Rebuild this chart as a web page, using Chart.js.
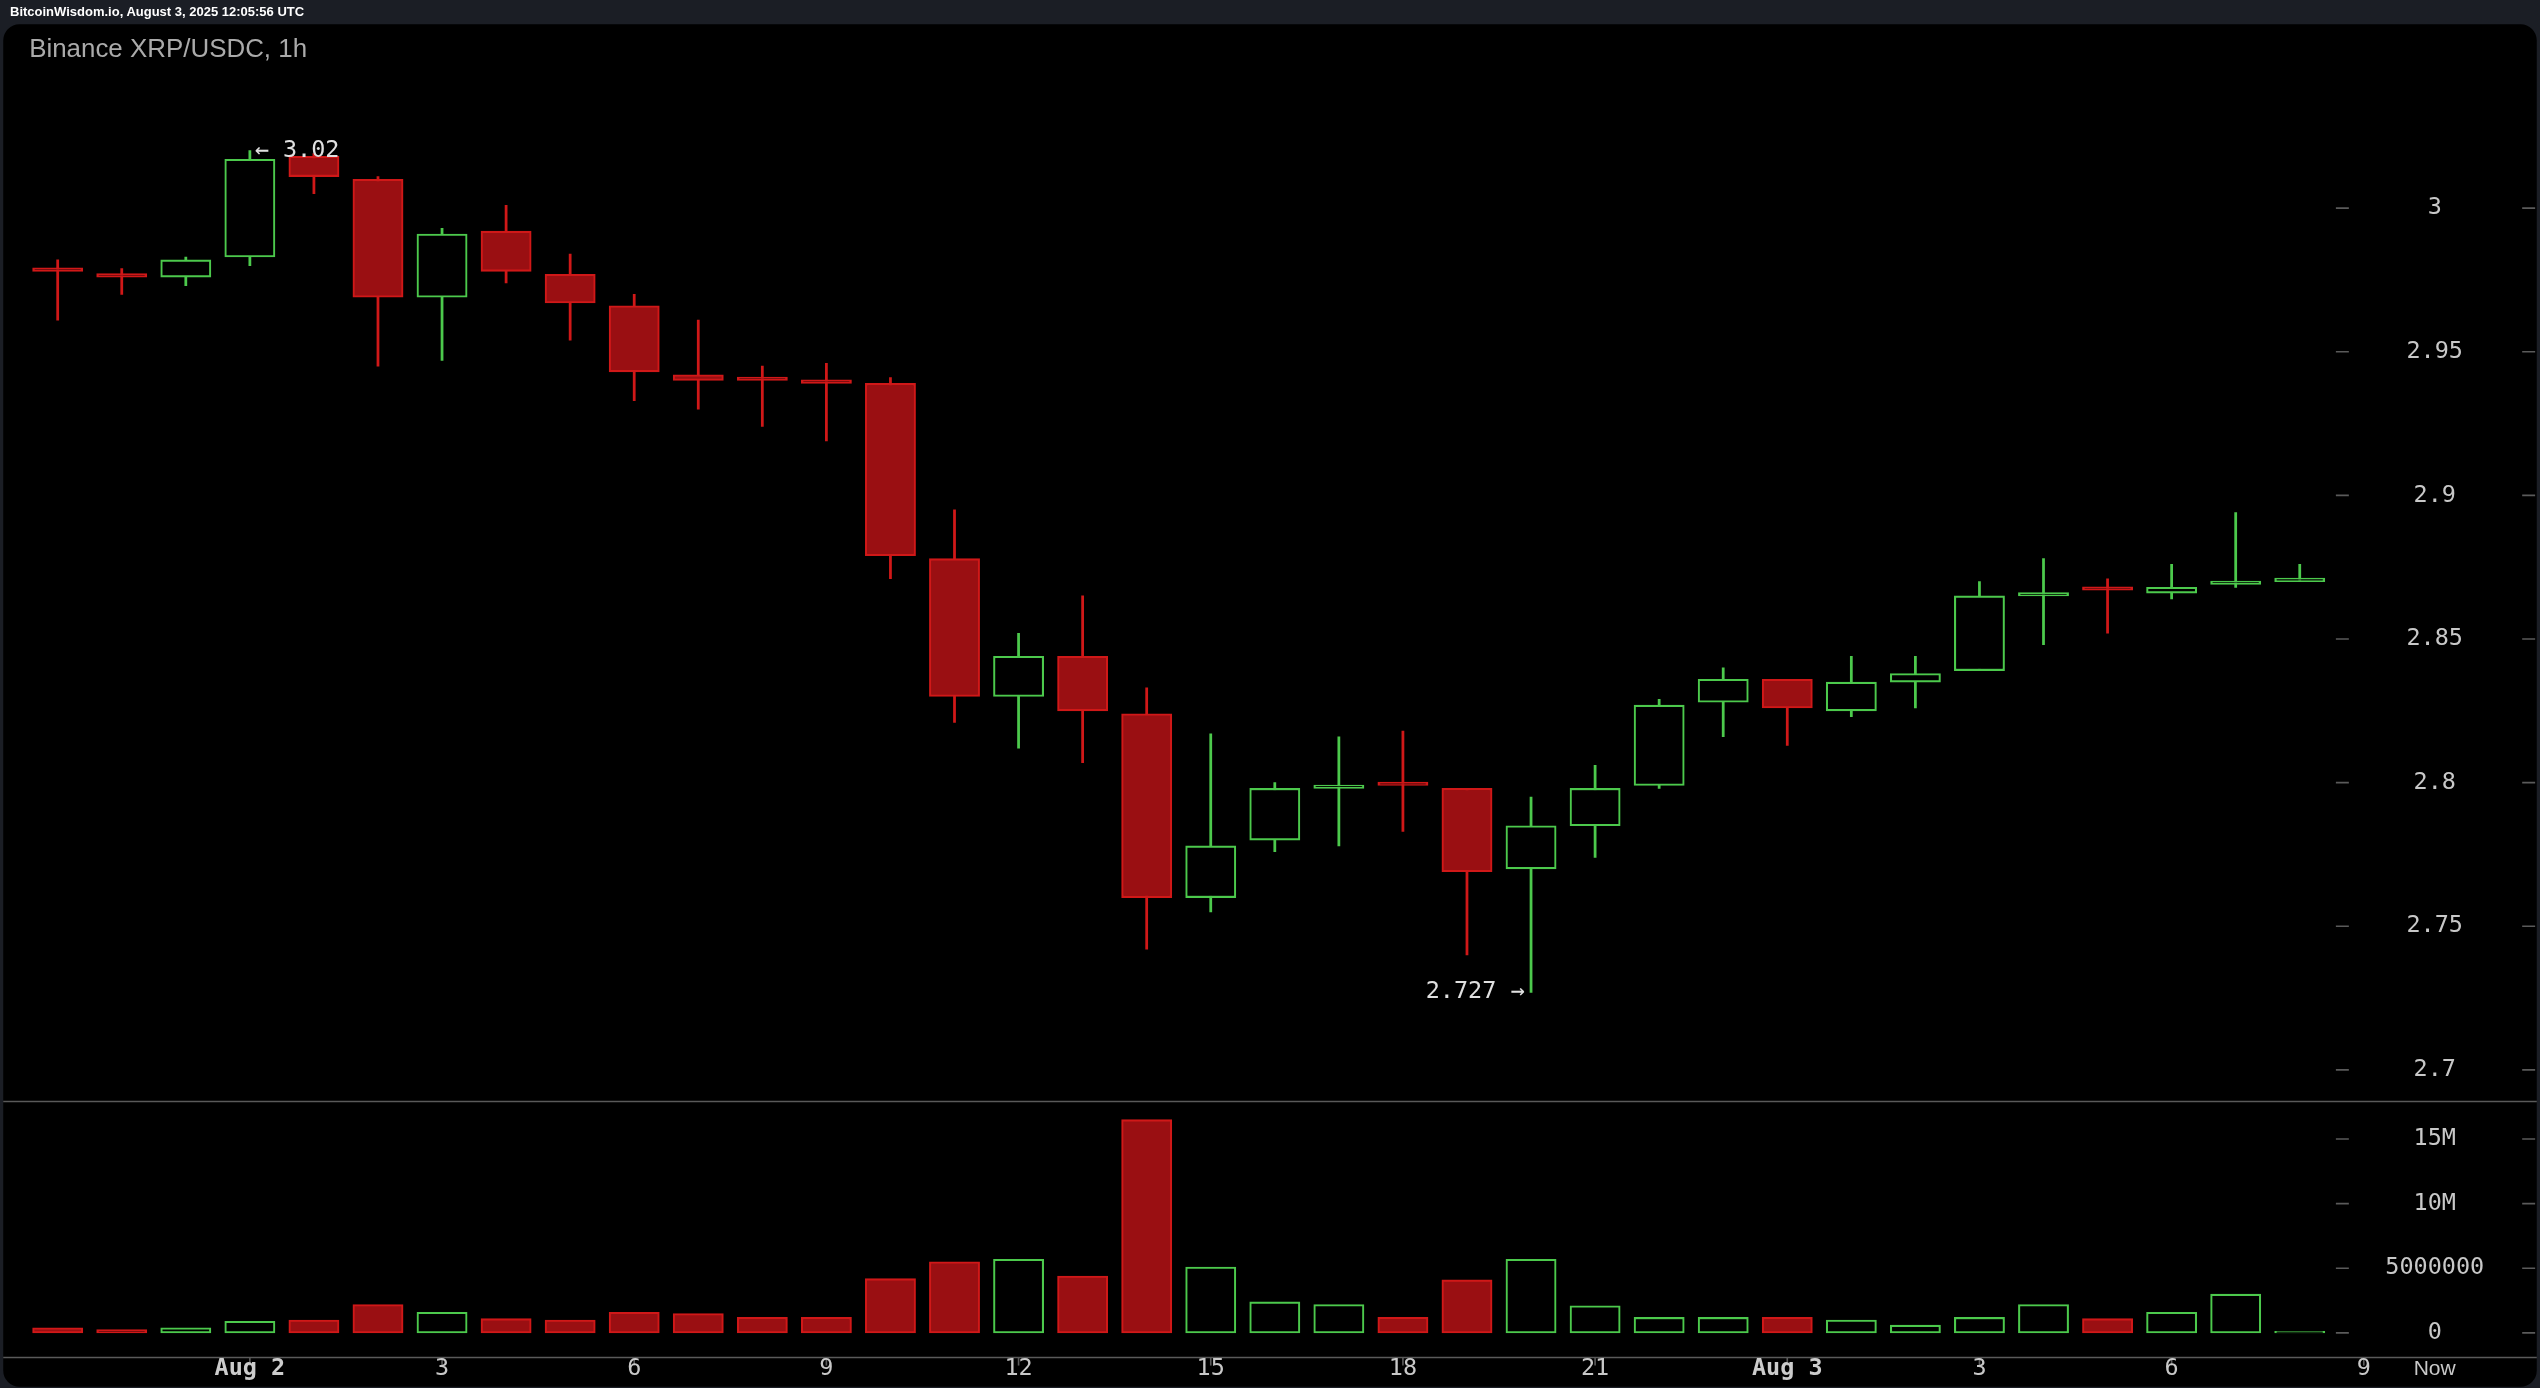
<!DOCTYPE html>
<html>
<head>
<meta charset="utf-8">
<script src="https://cdn.jsdelivr.net/npm/chart.js@4/dist/chart.umd.min.js"></script>
<style>
  html, body { margin: 0; padding: 0; background: #1b1e25; overflow: hidden; }
  #wrap { position: absolute; left: 0; top: 0; width: 2540px; height: 1388px; }
  #stamp { position: absolute; left: 10px; top: 4px; font: 600 13px "Liberation Sans", Arial, sans-serif; color: #fff; }
</style>
</head>
<body>
<div id="wrap"><canvas id="myChart" width="2540" height="1388"></canvas></div>
<div id="stamp">BitcoinWisdom.io, August 3, 2025 12:05:56 UTC</div>
<script>
// hourly candles, Aug 1 21:00 -> Aug 3 08:00
const opens  = [2.978,2.976,2.976,2.983,3.018,3.010,2.969,2.992,2.977,2.966,2.942,2.940,2.939,2.939,2.878,2.830,2.844,2.824,2.760,2.780,2.798,2.799,2.798,2.770,2.785,2.799,2.828,2.836,2.825,2.835,2.839,2.865,2.867,2.866,2.869,2.870];
const highs  = [2.982,2.979,2.983,3.020,3.019,3.011,2.993,3.001,2.984,2.970,2.961,2.945,2.946,2.941,2.895,2.852,2.865,2.833,2.817,2.800,2.816,2.818,2.798,2.795,2.806,2.829,2.840,2.836,2.844,2.844,2.870,2.878,2.871,2.876,2.894,2.876];
const lows   = [2.961,2.970,2.973,2.980,3.005,2.945,2.947,2.974,2.954,2.933,2.930,2.924,2.919,2.871,2.821,2.812,2.807,2.742,2.755,2.776,2.778,2.783,2.740,2.727,2.774,2.798,2.816,2.813,2.823,2.826,2.839,2.848,2.852,2.864,2.868,2.870];
const closes = [2.977,2.976,2.982,3.017,3.011,2.969,2.991,2.978,2.967,2.943,2.940,2.939,2.939,2.879,2.830,2.844,2.825,2.760,2.778,2.798,2.799,2.799,2.769,2.785,2.798,2.827,2.836,2.826,2.835,2.838,2.865,2.866,2.867,2.868,2.869,2.871];
const isUp   = [0,0,1,1,0,0,1,0,0,0,0,0,0,0,0,1,0,0,1,1,1,0,0,1,1,1,1,0,1,1,1,1,0,1,1,1];
const volumes = [0.4,0.25,0.4,0.9,1.0,2.2,1.6,1.1,1.0,1.6,1.5,1.2,1.2,4.2,5.5,5.7,4.4,16.5,5.1,2.4,2.2,1.2,4.1,5.7,2.1,1.2,1.2,1.2,1.0,0.6,1.2,2.2,1.1,1.6,3.0,0.1].map(v => v * 1e6);
const timeTicks = [[3,'Aug 2'],[6,'3'],[9,'6'],[12,'9'],[15,'12'],[18,'15'],[21,'18'],[24,'21'],[27,'Aug 3'],[30,'3'],[33,'6'],[36,'9']];
const priceTicks = [2.7,2.75,2.8,2.85,2.9,2.95,3];
const volTicks = [[0,'0'],[5e6,'5000000'],[1e7,'10M'],[1.5e7,'15M']];

const S = 2540 / 1568;
const D = v => v * S;
const GREEN = '#4cc94c', RED = '#d01818', REDFILL = '#9a0f12';

const idx = opens.map((o, i) => i);
const bodies = idx.map(i => {
  let a = opens[i], b = closes[i];
  if (Math.abs(a - b) < 0.0012) b = a + 0.0012;
  return { x: i, y: [a, b] };
});
const wicks = idx.map(i => ({ x: i, y: [lows[i], highs[i]] }));
const vols = idx.map(i => ({ x: i, y: [0, Math.max(volumes[i], 1.2e5)] }));
const col = (up, dn) => idx.map(i => isUp[i] ? up : dn);

const decor = {
  id: 'decor',
  beforeDraw(c) {
    const ctx = c.ctx;
    ctx.save();
    ctx.fillStyle = '#000';
    ctx.beginPath();
    ctx.roundRect(D(2), D(15), D(1564), D(841), D(10));
    ctx.fill();
    ctx.restore();
  },
  afterDraw(c) {
    const ctx = c.ctx, x = c.scales.x, y = c.scales.y, yv = c.scales.yv;
    ctx.save();
    ctx.strokeStyle = '#5a5a5a'; ctx.lineWidth = D(1);
    ctx.beginPath();
    ctx.moveTo(D(2), D(680)); ctx.lineTo(D(1566), D(680));
    ctx.moveTo(D(2), D(838)); ctx.lineTo(D(1566), D(838));
    ctx.stroke();
    ctx.font = D(14.5) + 'px "DejaVu Sans Mono"';
    ctx.fillStyle = '#c8c8c8'; ctx.textAlign = 'center'; ctx.textBaseline = 'middle';
    const tick = py => {
      ctx.beginPath();
      ctx.moveTo(D(1442), py); ctx.lineTo(D(1450), py);
      ctx.moveTo(D(1557), py); ctx.lineTo(D(1565), py);
      ctx.stroke();
    };
    priceTicks.forEach(p => { const py = y.getPixelForValue(p); tick(py); ctx.fillText(String(p), D(1503), py); });
    volTicks.forEach(([v, t]) => { const py = yv.getPixelForValue(v); tick(py); ctx.fillText(t, D(1503), py); });
    timeTicks.forEach(([i, t]) => {
      const px = x.getPixelForValue(i);
      ctx.beginPath(); ctx.moveTo(px, D(838)); ctx.lineTo(px, D(843)); ctx.stroke();
      if (t.startsWith('Aug')) { ctx.font = 'bold ' + D(14.5) + 'px "DejaVu Sans Mono"'; ctx.fillStyle = '#ccc'; }
      else { ctx.font = D(14.5) + 'px "DejaVu Sans Mono"'; ctx.fillStyle = '#c8c8c8'; }
      ctx.fillText(t, px, D(845));
    });
    ctx.font = D(13) + 'px "Liberation Sans"';
    ctx.fillText('Now', D(1503), D(845));
    // annotations
    ctx.font = D(14.5) + 'px "DejaVu Sans Mono"'; ctx.fillStyle = '#e0e0e0';
    ctx.textAlign = 'left';
    ctx.fillText('\u2190 3.02', x.getPixelForValue(3) + D(3), y.getPixelForValue(3.02));
    ctx.textAlign = 'right';
    ctx.fillText('2.727 \u2192', x.getPixelForValue(23) - D(4), y.getPixelForValue(2.727));
    ctx.textAlign = 'left';
    ctx.font = D(16) + 'px "Liberation Sans"'; ctx.fillStyle = '#aaa';
    ctx.fillText('Binance XRP/USDC, 1h', D(18), D(31));
    ctx.restore();
  }
};

new Chart(document.getElementById('myChart'), {
  type: 'bar',
  data: {
    datasets: [
      { data: wicks, yAxisID: 'y', barThickness: D(1.3), backgroundColor: col(GREEN, RED), borderWidth: 0, grouped: false, order: 2 },
      { data: bodies, yAxisID: 'y', barThickness: D(31), backgroundColor: col('#000', REDFILL), borderColor: col(GREEN, RED), borderWidth: D(1.3), borderSkipped: false, grouped: false, order: 1 },
      { data: vols, yAxisID: 'yv', barThickness: D(31), backgroundColor: col('#000', REDFILL), borderColor: col(GREEN, RED), borderWidth: D(1.3), borderSkipped: false, grouped: false, order: 1 }
    ]
  },
  options: {
    responsive: false, animation: false, devicePixelRatio: 1,
    layout: { padding: { left: D(2), right: 2540 - D(1566), top: D(15), bottom: 1388 - D(838) } },
    plugins: { legend: { display: false }, tooltip: { enabled: false } },
    scales: {
      x: { type: 'linear', min: -0.85, max: 38.7, offset: false, display: false },
      yv: { stack: 'v', stackWeight: 158, min: -1.9e6, max: 17.9e6, display: false },
      y: { stack: 'v', stackWeight: 665, min: 2.689, max: 3.064, display: false }
    }
  },
  plugins: [decor]
});
</script>
</body>
</html>
